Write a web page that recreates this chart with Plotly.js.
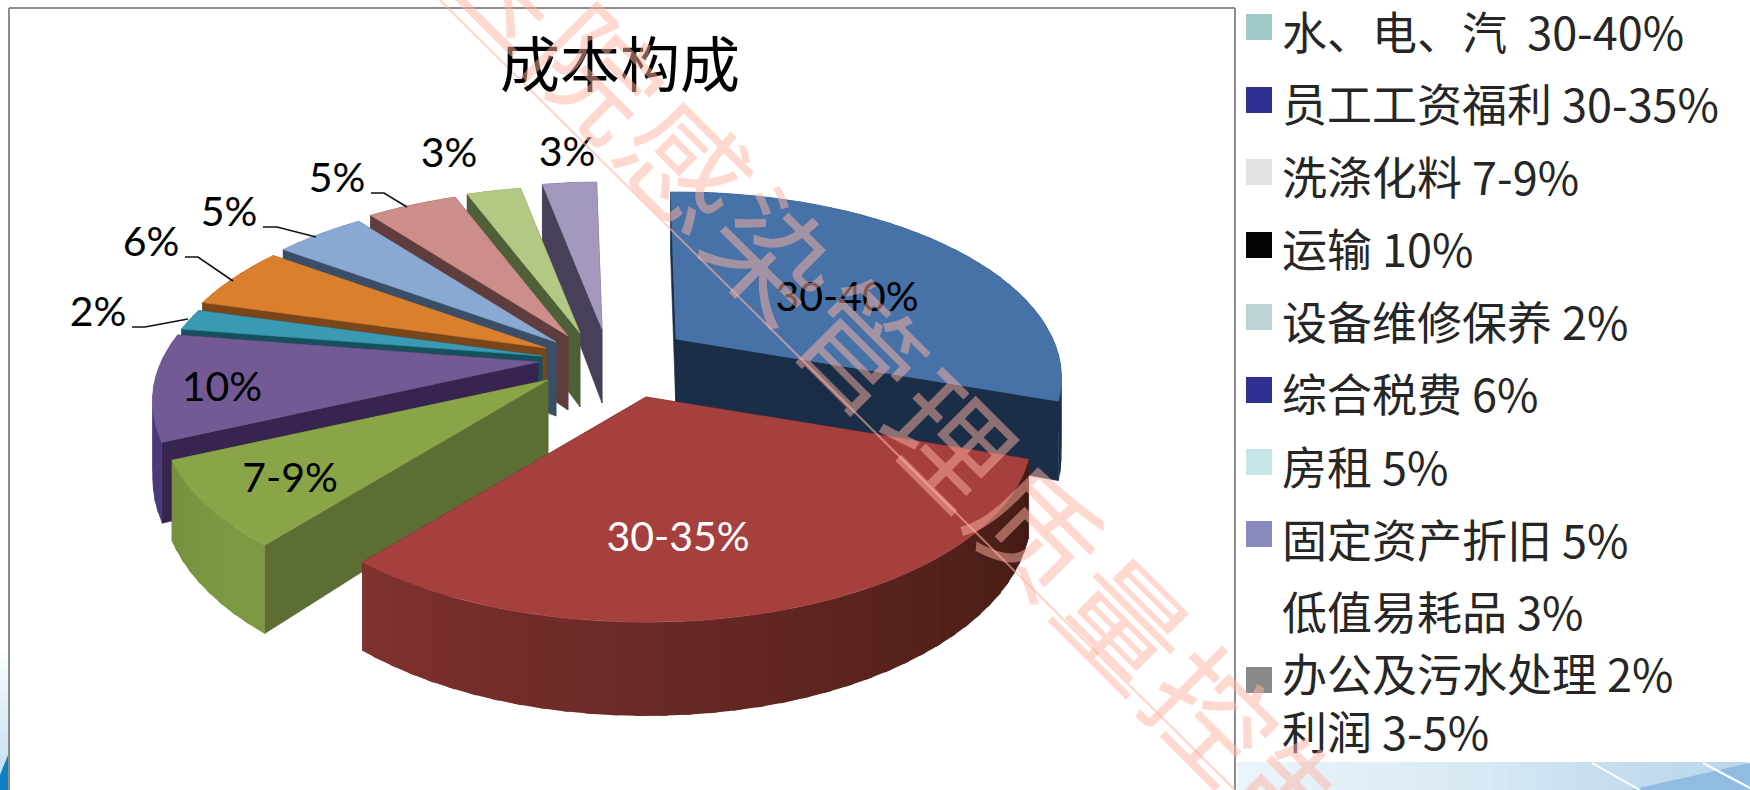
<!DOCTYPE html>
<html lang="zh">
<head>
<meta charset="utf-8">
<title>成本构成</title>
<script src="https://cdn.plot.ly/plotly-3.0.1.min.js"></script>
<style>
  html, body { margin: 0; padding: 0; background: #ffffff; }
  #chart { width: 1750px; height: 790px; }
</style>
</head>
<body>
<div id="chart"></div>
<script>
// Slices, clockwise from twelve o'clock
const sliceLabels = ['30-40%', '30-35%', '7-9%', '10%', '2%', '6%', '5%', '5%', '3%', '3%'];
const sliceValues = [33, 33, 8, 10, 2, 6, 5, 5, 3, 3];

// Legend rows
const legendNames = [
  '水、电、汽\u00a0\u00a030-40%', '员工工资福利 30-35%', '洗涤化料 7-9%', '运输 10%',
  '设备维修保养 2%', '综合税费 6%', '房租 5%', '固定资产折旧 5%',
  '低值易耗品 3%', '办公及污水处理 2%', '利润 3-5%'
];
const legendSwatches = [
  '#9fc9c9', '#2e3192', '#e2e2e2', '#050505', '#bdd3d3', '#2e3192',
  '#c5e6e8', '#8a8abf', '#ffffff', '#8a8a8a', '#ffffff'
];
const legendRowY = [39, 111, 184, 256, 329, 401, 474, 547, 619, 681, 739];
const swatchRowY = [27, 100, 172, 245, 317, 390, 462, 534, 608, 680, 735];

// Slice colours: top face, radial wall, rim wall at the two ends of the arc
const topColors = ['#4672a8', '#a5403e', '#8aa548', '#735a95', '#3a9ab3', '#d97f2e', '#8aa9d2', '#cd8d8b', '#b3c983', '#a498bc'];
const wallColors = ['#1a2e48', '#5a1f1c', '#5c6e33', '#38254f', '#16505c', '#7a4518', '#3a4e68', '#5e3d3c', '#4f6038', '#474058'];
const rimStart = ['#1a2e48', '#431a14', '#7d9a43', '#4b3a7a', '#16505c', '#7a4518', '#3a4e68', '#5e3d3c', '#4f6038', '#474058'];
const rimEnd   = ['#1a2e48', '#7f322e', '#76923f', '#4b3a7a', '#16505c', '#7a4518', '#3a4e68', '#5e3d3c', '#4f6038', '#474058'];

// Exploded displacement of each slice's apex from the pie centre, in pixels
const pullX = [64, 34, -64, -74, -70, -66, -56, -44, -32, -10];
const pullY = [-6, 52, 35, 17, 11, 3, -3, -9, -12, -16];

// Data-label anchors and leader lines
const labelX = [847, 678, 290, 222, 98, 151, 229, 337, 449, 567];
const labelY = [301, 541, 482, 391, 316, 246, 216, 182, 157, 156];
const labelColors = ['#000000', '#ffffff', '#000000', '#000000', '#000000', '#000000', '#000000', '#000000', '#000000', '#000000'];
const leaderX = [[132, 145, 188], [185, 198, 233], [263, 277, 316], [371, 384, 407]];
const leaderY = [[327, 327, 319], [257, 257, 281], [227, 227, 237], [193, 193, 207]];

// Diagonal stamp across the sheet
const stampChars = ['医', '院', '感', '染', '管', '理', '质', '量', '控', '制'];

// Perspective model of the pie disc
const CX = 612, CY = 345;       // pie centre in pixels
const RX = 377, RY = 178;       // radii at mid depth
const PERSP = 0.21;             // front of the disc is larger than the back
const DEPTH = 74;               // extrusion of the disc
const START = -1;               // rotation of the first slice, degrees

function project(i, deg, r, level) {
  const t = deg * Math.PI / 180;
  const wx = r * Math.sin(t), wy = -r * Math.cos(t);
  const s = 1 / (1 - PERSP * wy);
  return [CX + pullX[i] + RX * wx * s, CY + pullY[i] + RY * wy * s + level * DEPTH * s];
}

function mix(a, b, f) {
  const p = c => [1, 3, 5].map(k => parseInt(c.substr(k, 2), 16));
  const ca = p(a), cb = p(b);
  return '#' + ca.map((v, k) => Math.round(v + (cb[k] - v) * f).toString(16).padStart(2, '0')).join('');
}

function polygon(points, color, edge) {
  const xs = points.map(p => p[0]), ys = points.map(p => p[1]);
  xs.push(xs[0]); ys.push(ys[0]);
  return {
    type: 'scatter', mode: 'lines', x: xs, y: ys, fill: 'toself', fillcolor: color,
    line: { color: color, width: edge }, hoverinfo: 'skip', showlegend: false
  };
}

// Build the wedge geometry from the values
const total = sliceValues.reduce((a, b) => a + b, 0);
const starts = [], ends = [];
sliceValues.reduce((acc, v) => {
  starts.push(acc);
  ends.push(acc + v / total * 360);
  return acc + v / total * 360;
}, START);

function sliceTraces(i) {
  const out = [];
  const a0 = starts[i], a1 = ends[i];
  const apexTop = project(i, 0, 0, 0), apexBot = project(i, 0, 0, 1);
  // radial walls
  [a0, a1].forEach(d => {
    out.push(polygon([apexTop, project(i, d, 1, 0), project(i, d, 1, 1), apexBot], wallColors[i], 0.6));
  });
  // rim wall, in short overlapping bands so the shading can run along the arc
  const bands = Math.max(1, Math.ceil((a1 - a0) / 3));
  for (let b = 0; b < bands; b++) {
    const d0 = a0 + (a1 - a0) * b / bands;
    const d1 = Math.min(a1, a0 + (a1 - a0) * (b + 1) / bands + 1);
    out.push(polygon(
      [project(i, d0, 1, 0), project(i, d1, 1, 0), project(i, d1, 1, 1), project(i, d0, 1, 1)],
      mix(rimStart[i], rimEnd[i], (b + 0.5) / bands), 0
    ));
  }
  // top face
  const top = [apexTop];
  for (let d = 0; d <= 40; d++) top.push(project(i, a0 + (a1 - a0) * d / 40, 1, 0));
  out.push(polygon(top, topColors[i], 0.6));
  return out;
}

const traces = [];

// Back-to-front painting order
[9, 8, 7, 6, 5, 4, 3, 2, 0, 1].forEach(i => sliceTraces(i).forEach(t => traces.push(t)));

// Leader lines
leaderX.forEach((xs, k) => traces.push({
  type: 'scatter', mode: 'lines', x: xs, y: leaderY[k],
  line: { color: '#111111', width: 1.6 }, hoverinfo: 'skip', showlegend: false
}));

// Data labels
traces.push({
  type: 'scatter', mode: 'text', x: labelX, y: labelY, text: sliceLabels,
  textposition: 'middle center',
  textfont: { family: 'Lato, "Noto Sans", sans-serif', size: 41, color: labelColors },
  hoverinfo: 'skip', showlegend: false
});

// Legend swatches and names
traces.push({
  type: 'scatter', mode: 'markers', x: legendSwatches.map(() => 1259), y: swatchRowY,
  marker: { symbol: 'square', size: 26, color: legendSwatches, line: { width: 0 } },
  hoverinfo: 'skip', showlegend: false
});
traces.push({
  type: 'scatter', mode: 'text', x: legendNames.map(() => 1282), y: legendRowY, text: legendNames,
  textposition: 'middle right',
  textfont: { family: '"Noto Sans CJK SC", sans-serif', size: 45, color: '#262626' },
  hoverinfo: 'skip', showlegend: false
});

// Sheet frame and the slide's blue backdrop showing at the edges
const shapes = [];
const rect = (x0, y0, x1, y1, color) => shapes.push({
  type: 'rect', xref: 'x', yref: 'y', x0, y0, x1, y1, fillcolor: color, line: { width: 0 }, layer: 'below'
});
for (let k = 0; k < 34; k++) {
  const f = k / 33;
  const x0 = 1237 + k * 15;
  rect(x0, 762, x0 + 15.5, 790, mix(mix('#eaf4fb', '#d3e5f2', Math.min(f * 1.6, 1)), '#b8d6ec', Math.max(0, f * 2 - 1)));
}
for (let k = 0; k < 15; k++) {
  rect(0, 640 + k * 10, 8, 651 + k * 10, mix('#ffffff', '#bcdcec', k / 14));
}
shapes.push({ type: 'path', path: 'M 1630 790 L 1750 763 L 1750 790 Z', fillcolor: '#8fbce0', line: { width: 0 }, layer: 'below', xref: 'x', yref: 'y' });
shapes.push({ type: 'path', path: 'M 0 790 L 0 775 L 8 755 L 8 790 Z', fillcolor: '#0f7fc4', line: { width: 0 }, layer: 'below', xref: 'x', yref: 'y' });
shapes.push({ type: 'line', x0: 1592, y0: 763, x1: 1640, y1: 790, xref: 'x', yref: 'y', line: { color: '#ffffff', width: 2 }, layer: 'below' });
shapes.push({ type: 'line', x0: 1703, y0: 763, x1: 1750, y1: 788, xref: 'x', yref: 'y', line: { color: '#ffffff', width: 2 }, layer: 'below' });
shapes.push({ type: 'line', x0: 9, y0: 8, x1: 1235, y1: 8, xref: 'x', yref: 'y', line: { color: '#8c8c8c', width: 2 }, layer: 'below' });
shapes.push({ type: 'line', x0: 9, y0: 8, x1: 9, y1: 790, xref: 'x', yref: 'y', line: { color: '#8c8c8c', width: 2 }, layer: 'below' });
shapes.push({ type: 'line', x0: 1235, y0: 8, x1: 1235, y1: 790, xref: 'x', yref: 'y', line: { color: '#8c8c8c', width: 2 }, layer: 'below' });
// Stamp rule
shapes.push({ type: 'line', x0: 440, y0: 0, x1: 1235, y1: 790, xref: 'x', yref: 'y', line: { color: 'rgba(255,178,160,0.6)', width: 2 }, layer: 'above' });

// Stamp characters, evenly stepped down the diagonal
const annotations = stampChars.map((ch, k) => ({
  text: ch, showarrow: false, xref: 'paper', yref: 'paper',
  x: (514 + 87.8 * k) / 1750, y: 1 - (-24 + 91.7 * k) / 790,
  xanchor: 'center', yanchor: 'middle', textangle: 45,
  font: { family: '"Noto Sans CJK SC", sans-serif', size: 122, color: 'rgba(255,178,160,0.5)' }
}));

const layout = {
  width: 1750, height: 790,
  margin: { l: 0, r: 0, t: 0, b: 0 },
  paper_bgcolor: '#ffffff', plot_bgcolor: '#ffffff',
  showlegend: false,
  title: {
    text: '成本构成', x: 620 / 1750, y: 1 - 66 / 790, xanchor: 'center', yanchor: 'middle',
    font: { family: '"Noto Sans CJK SC", sans-serif', size: 60, color: '#000000' }
  },
  xaxis: { range: [0, 1750], visible: false, fixedrange: true },
  yaxis: { range: [790, 0], visible: false, fixedrange: true },
  shapes, annotations
};

Plotly.newPlot('chart', traces, layout, { displayModeBar: false, staticPlot: true });
</script>
</body>
</html>
